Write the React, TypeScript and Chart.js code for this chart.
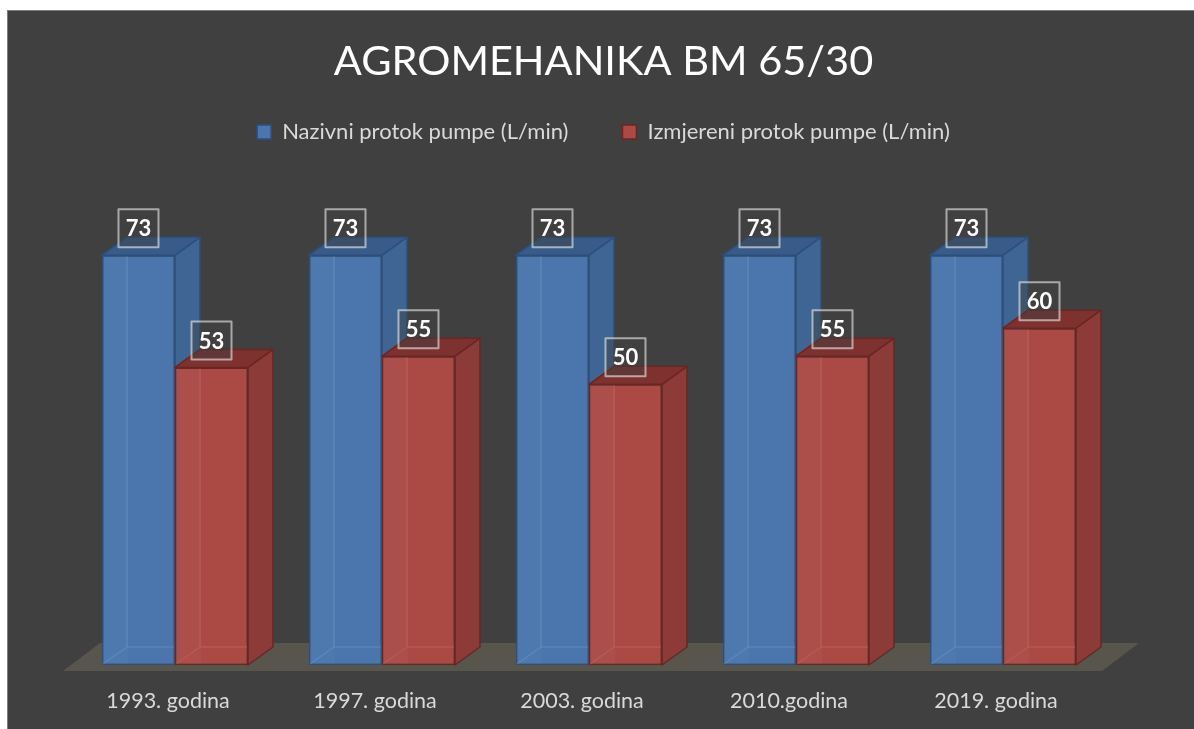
import React, { useEffect, useRef } from 'react';
import { Chart, registerables } from 'chart.js';

Chart.register(...registerables);

const titleText = 'AGROMEHANIKA BM 65/30';
const categories = ['1993. godina', '1997. godina', '2003. godina', '2010.godina', '2019. godina'];
const seriesNames = ['Nazivni protok pumpe (L/min)', 'Izmjereni protok pumpe (L/min)'];
const nazivniProtok = [73, 73, 73, 73, 73];
const izmjereniProtok = [53, 55, 50, 55, 60];
const yMin = 0;
const yMax = 91.2;

const FONT = 'Lato';

const faces = [
  { front: '#4a76ad', side: '#3e6593', top: '#385b8a', edge: '#2d4f7d', inner: 'rgba(125,165,215,0.3)' },
  { front: '#ab4a45', side: '#8c3b38', top: '#7d3230', edge: '#6a2623', inner: 'rgba(215,115,110,0.3)' },
];

function barGeom(el: any) {
  const p = el.getProps(['x', 'y', 'base', 'width'], true);
  const left = p.x - p.width / 2;
  const right = p.x + p.width / 2;
  const dx = p.width * (25 / 73);
  const dy = p.width * (18 / 73);
  return { x: p.x, top: p.y, bottom: p.base, left, right, dx, dy };
}

function drawExtrusion(ctx: CanvasRenderingContext2D, meta: any, f: any) {
  meta.data.forEach((el: any) => {
    const g = barGeom(el);
    ctx.lineWidth = 1.5;
    ctx.strokeStyle = f.edge;
    ctx.lineJoin = 'round';
    ctx.fillStyle = f.side;
    ctx.beginPath();
    ctx.moveTo(g.right, g.top);
    ctx.lineTo(g.right + g.dx, g.top - g.dy);
    ctx.lineTo(g.right + g.dx, g.bottom - g.dy);
    ctx.lineTo(g.right, g.bottom);
    ctx.closePath();
    ctx.fill();
    ctx.stroke();
    ctx.fillStyle = f.top;
    ctx.beginPath();
    ctx.moveTo(g.left, g.top);
    ctx.lineTo(g.left + g.dx, g.top - g.dy);
    ctx.lineTo(g.right + g.dx, g.top - g.dy);
    ctx.lineTo(g.right, g.top);
    ctx.closePath();
    ctx.fill();
    ctx.stroke();
  });
}

function drawInner(ctx: CanvasRenderingContext2D, meta: any, f: any) {
  meta.data.forEach((el: any) => {
    const g = barGeom(el);
    ctx.fillStyle = 'rgba(255,255,255,0.025)';
    ctx.fillRect(g.left + 1, g.top + 1, g.dx, g.bottom - g.top - 2);
    ctx.strokeStyle = f.inner;
    ctx.lineWidth = 1.5;
    ctx.beginPath();
    ctx.moveTo(g.left + g.dx, g.top + 1);
    ctx.lineTo(g.left + g.dx, g.bottom - g.dy);
    ctx.lineTo(g.right - 1, g.bottom - g.dy);
    ctx.moveTo(g.left + g.dx, g.bottom - g.dy);
    ctx.lineTo(g.left + 1, g.bottom - 1);
    ctx.stroke();
  });
}

const bar3dPlugin = {
  id: 'bar3d',
  beforeDatasetsDraw(chart: any) {
    const { ctx, chartArea: ca } = chart;
    const base = chart.scales.y.getPixelForValue(0);
    ctx.save();
    ctx.fillStyle = '#58554c';
    ctx.beginPath();
    ctx.moveTo(ca.left - 8.5, base + 6);
    ctx.lineTo(ca.right - 4.5, base + 6);
    ctx.lineTo(ca.right + 32.5, base - 22);
    ctx.lineTo(ca.left + 28.5, base - 22);
    ctx.closePath();
    ctx.fill();
    drawExtrusion(ctx, chart.getDatasetMeta(0), faces[0]);
    ctx.restore();
  },
  afterDatasetsDraw(chart: any) {
    const { ctx } = chart;
    ctx.save();
    drawInner(ctx, chart.getDatasetMeta(0), faces[0]);
    drawInner(ctx, chart.getDatasetMeta(1), faces[1]);
    drawExtrusion(ctx, chart.getDatasetMeta(1), faces[1]);
    [0, 1].forEach((di) => {
      const meta = chart.getDatasetMeta(di);
      const values = chart.data.datasets[di].data;
      meta.data.forEach((el: any, i: number) => {
        const g = barGeom(el);
        const w = 40;
        const h = 38;
        const bx = g.x - w / 2;
        const by = g.top - 8 - h;
        ctx.fillStyle = 'rgba(64,64,64,0.45)';
        ctx.fillRect(bx, by, w, h);
        ctx.strokeStyle = 'rgba(255,255,255,0.55)';
        ctx.lineWidth = 2;
        ctx.strokeRect(bx, by, w, h);
        ctx.fillStyle = '#ffffff';
        ctx.font = `bold 22px ${FONT}`;
        ctx.textAlign = 'center';
        ctx.textBaseline = 'middle';
        ctx.fillText(String(values[i]), g.x, by + h / 2 + 1);
      });
    });
    ctx.restore();
  },
};

export default function App() {
  const ref = useRef<HTMLCanvasElement | null>(null);

  useEffect(() => {
    if (!ref.current) return;
    const chart = new Chart(ref.current, {
      type: 'bar',
      data: {
        labels: categories,
        datasets: [
          {
            label: seriesNames[0],
            data: nazivniProtok,
            backgroundColor: faces[0].front,
            borderColor: faces[0].edge,
            borderWidth: 1.5,
            borderSkipped: false,
          },
          {
            label: seriesNames[1],
            data: izmjereniProtok,
            backgroundColor: faces[1].front,
            borderColor: faces[1].edge,
            borderWidth: 1.5,
            borderSkipped: false,
          },
        ],
      },
      options: {
        responsive: false,
        animation: false,
        devicePixelRatio: 1,
        layout: { padding: { left: 63.5, right: 58.5, top: 0, bottom: -7.8 } },
        datasets: { bar: { categoryPercentage: 146 / 207, barPercentage: 1 } },
        plugins: {
          title: {
            display: true,
            text: titleText,
            color: '#ffffff',
            font: { family: FONT, size: 41.5, weight: 'normal' },
            padding: { top: 25.8, bottom: -19.6 },
          },
          legend: {
            display: true,
            position: 'top',
            labels: {
              color: '#d9d9d9',
              font: { family: FONT, size: 22 },
              boxWidth: 14,
              boxHeight: 14,
              padding: 54,
            },
          },
          tooltip: { enabled: false },
        },
        scales: {
          x: {
            grid: { display: false, drawTicks: false },
            border: { display: false },
            ticks: {
              color: '#d9d9d9',
              font: { family: FONT, size: 21.5 },
              padding: 23,
              labelOffset: -7,
              maxRotation: 0,
            },
          },
          y: {
            display: true,
            position: 'right',
            min: yMin,
            max: yMax,
            grid: { display: false, drawTicks: false },
            border: { display: false },
            ticks: { display: false },
            afterFit: (s: any) => {
              s.width = 29;
            },
          },
        },
      },
      plugins: [bar3dPlugin],
    });
    return () => chart.destroy();
  }, []);

  return (
    <div
      style={{
        position: 'absolute',
        left: 7,
        top: 10,
        width: 1187,
        height: 719,
        boxSizing: 'border-box',
        borderTop: '1px solid #7c7c7c',
        borderLeft: '1px solid #7c7c7c',
        background: '#404040',
      }}
    >
      <canvas ref={ref} width={1186} height={718} style={{ display: 'block' }} />
    </div>
  );
}
